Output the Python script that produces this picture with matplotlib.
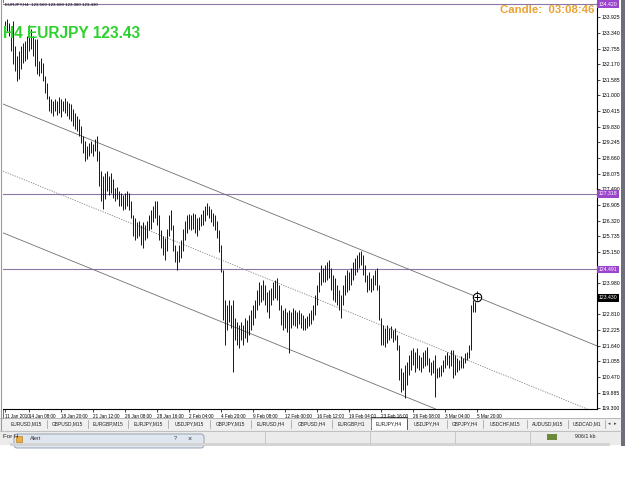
import matplotlib
matplotlib.use("Agg")
import matplotlib.pyplot as plt
from matplotlib.patches import Rectangle, FancyBboxPatch

plt.rcParams['font.family'] = ['Liberation Sans', 'DejaVu Sans']

# ----------------------------
# Data
# ----------------------------
symbol = "EURJPY"
period = "H4"
last_ohlc = [123.560, 123.680, 123.380, 123.430]
timer_text = "03:08:46"

bar_high = [
    133.79, 133.86, 133.71, 133.60, 133.79, 132.85, 132.48, 132.67, 132.85, 132.96,
    133.04, 133.23, 133.64, 133.49, 133.23, 133.11, 133.11, 132.29, 132.41, 132.22,
    131.73, 131.47, 130.99, 130.88, 130.80, 130.88, 130.80, 130.95, 130.88, 130.80,
    130.91, 130.80, 130.73, 130.69, 130.50, 130.35, 130.24, 130.13, 129.87, 129.50,
    129.31, 129.12, 129.23, 129.31, 129.20, 129.38, 129.50, 128.94, 128.19, 128.00,
    128.11, 128.19, 128.00, 128.11, 127.89, 127.52, 127.59, 127.44, 127.37, 127.26,
    127.37, 127.44, 127.37, 127.07, 126.51, 126.40, 126.25, 126.32, 126.14, 126.25,
    126.14, 126.32, 126.51, 126.70, 126.88, 127.07, 127.07, 126.51, 125.95, 125.76,
    125.65, 126.02, 126.51, 126.70, 126.14, 125.39, 125.20, 125.39, 125.58, 126.02,
    126.32, 126.51, 126.58, 126.51, 126.62, 126.55, 126.40, 126.47, 126.58, 126.70,
    126.88, 126.96, 126.88, 126.77, 126.62, 126.51, 126.32, 125.95, 125.39, 124.46,
    123.34, 123.15, 123.34, 123.15, 123.34, 122.67, 122.52, 122.40, 122.52, 122.40,
    122.67, 122.59, 122.78, 122.96, 123.15, 123.34, 123.71, 124.01, 123.90, 124.08,
    123.90, 123.64, 123.71, 123.79, 124.01, 124.08, 124.16, 123.90, 123.15, 122.96,
    123.04, 122.89, 122.96, 122.89, 123.04, 122.96, 122.89, 122.96, 122.85, 122.78,
    122.67, 122.74, 122.85, 122.96, 123.15, 123.53, 123.90, 124.38, 124.64, 124.53,
    124.64, 124.76, 124.83, 124.53, 124.27, 124.16, 123.90, 123.71, 123.53, 123.90,
    124.27, 124.46, 124.38, 124.53, 124.76, 124.91, 125.02, 125.13, 125.20, 125.02,
    124.64, 124.27, 124.38, 124.16, 124.27, 124.46, 124.53, 123.90, 122.67, 122.40,
    122.29, 122.40, 122.29, 122.37, 122.22, 122.29, 122.03, 121.66, 120.80, 120.65,
    120.91, 121.03, 121.29, 121.47, 121.55, 121.40, 121.55, 121.29, 121.21, 121.40,
    121.47, 121.58, 121.17, 121.03, 121.10, 121.29, 120.80, 120.84, 120.91, 121.10,
    121.29, 121.40, 121.29, 121.47, 121.47, 121.29, 121.17, 121.10, 121.25, 121.17,
    121.36, 121.40, 121.66, 123.15, 123.34, 123.26, 123.68,
]

bar_low = [
    133.49, 133.41, 133.23, 132.67, 132.18, 131.92, 131.55, 131.62, 132.00, 132.22,
    132.29, 132.37, 132.67, 132.74, 132.48, 132.11, 131.81, 131.73, 131.85, 131.55,
    131.10, 130.88, 130.43, 130.35, 130.24, 130.43, 130.28, 130.35, 130.20, 130.43,
    130.35, 130.24, 130.13, 130.05, 129.87, 129.76, 129.68, 129.50, 129.23, 128.86,
    128.56, 128.64, 128.75, 128.86, 128.75, 128.94, 128.56, 127.63, 127.07, 126.77,
    127.14, 127.44, 127.26, 127.37, 127.18, 127.07, 127.14, 126.88, 126.85, 126.70,
    126.77, 126.88, 126.70, 126.40, 125.76, 125.58, 125.65, 125.73, 125.39, 125.28,
    125.58, 125.65, 125.95, 126.02, 126.25, 126.40, 126.14, 125.58, 125.28, 125.02,
    124.83, 125.20, 125.76, 125.95, 125.20, 124.76, 124.46, 124.76, 124.91, 125.20,
    125.58, 125.87, 126.02, 125.95, 126.02, 125.87, 125.76, 125.95, 126.10, 126.14,
    126.32, 126.51, 126.40, 126.25, 126.10, 125.95, 125.65, 125.13, 124.38, 122.59,
    121.66, 122.22, 122.52, 122.29, 120.65, 121.85, 121.66, 121.55, 121.85, 121.66,
    121.92, 121.77, 122.03, 122.22, 122.40, 122.67, 122.96, 123.15, 123.26, 123.34,
    123.15, 122.89, 122.67, 123.15, 123.34, 123.41, 123.34, 122.96, 122.40, 122.22,
    122.29, 122.14, 121.36, 122.29, 122.40, 122.37, 122.29, 122.44, 122.29, 122.22,
    122.22, 122.29, 122.37, 122.44, 122.59, 122.78, 123.15, 123.64, 123.90, 124.01,
    124.01, 124.08, 124.16, 123.71, 123.34, 123.26, 123.15, 122.96, 122.67, 123.15,
    123.53, 123.64, 123.71, 123.90, 124.08, 124.27, 124.38, 124.53, 124.64, 124.27,
    124.01, 123.64, 123.71, 123.64, 123.71, 123.90, 123.71, 122.59, 121.66, 121.66,
    121.58, 121.73, 121.85, 121.92, 121.77, 121.85, 121.47, 120.35, 119.91, 119.98,
    119.68, 120.17, 120.54, 120.73, 120.91, 120.65, 120.80, 120.73, 120.65, 120.80,
    120.88, 120.91, 120.65, 120.54, 120.61, 119.72, 120.43, 120.47, 120.50, 120.65,
    120.80, 120.91, 120.80, 120.88, 120.43, 120.54, 120.65, 120.73, 120.80, 120.80,
    120.99, 121.10, 121.17, 121.47, 122.89, 122.89, 123.38,
]

date_ticks = [0, 12, 28, 44, 60, 76, 92, 108, 124, 140, 156, 172, 188, 204, 220, 236]
date_labels = ["11 Jan 2010", "14 Jan 08:00", "18 Jan 20:00", "21 Jan 12:00",
               "26 Jan 08:00", "28 Jan 16:00", "2 Feb 04:00", "4 Feb 20:00",
               "9 Feb 08:00", "12 Feb 00:00", "16 Feb 12:00", "19 Feb 04:00",
               "23 Feb 16:00", "26 Feb 08:00", "3 Mar 04:00", "5 Mar 20:00"]

price_ticks = [119.300, 119.885, 120.470, 121.055, 121.640, 122.225, 122.810,
               123.980, 125.150, 125.735, 126.320, 126.905, 127.490, 128.075,
               128.660, 129.245, 129.830, 130.415, 131.000, 131.585, 132.170,
               132.755, 133.340, 133.925]

level_prices = [134.420, 127.318, 124.491]

# trend channel anchors (bar index, price)
chan_bars = [1, 236]
chan_upper = [130.62, 123.46]
chan_mid = [128.11, 120.95]
chan_lower = [125.80, 118.64]

tab_names = ["EURUSD,M15", "GBPUSD,M15", "EURGBP,M15", "EURJPY,M15", "USDJPY,M15",
             "GBPJPY,M15", "EURUSD,H4", "GBPUSD,H4", "EURGBP,H1", "EURJPY,H4",
             "USDJPY,H4", "GBPJPY,H4", "USDCHF,M15", "AUDUSD,M15", "USDCAD,M1"]
tab_edges = [5, 47, 88, 128, 168, 210, 251, 291, 332, 371, 407, 447, 483, 527, 568, 605]
active_tab = "EURJPY,H4"

LEVEL_COLOR = "#8d76a6"
LABEL_BG = "#9b45cc"

# --------------------------------------------------
# Figure + window chrome (pixel coordinates)
# --------------------------------------------------
W, H = 625, 503
fig = plt.figure(figsize=(W / 100, H / 100), dpi=100)
fig.patch.set_facecolor("white")

bg = fig.add_axes([0, 0, 1, 1])
bg.set_xlim(0, W)
bg.set_ylim(H, 0)
bg.axis("off")
bg.set_zorder(0)

# left double frame + right edge
bg.plot([0.5, 0.5], [0, 430], color="#9a9a9a", lw=0.8)
bg.plot([2.5, 2.5], [0, 418], color="#555555", lw=0.6)
bg.add_patch(Rectangle((621, 0), 4, 446, color="#6b6f78", lw=0))

# tab strip
bg.add_patch(Rectangle((0, 418), 621, 12, color="#f0f0f0", lw=0))
bg.plot([0, 621], [418, 418], color="#a0a0a0", lw=0.5)
for name, x0, x1 in zip(tab_names, tab_edges[:-1], tab_edges[1:]):
    if name == active_tab:
        bg.add_patch(Rectangle((x0, 417), x1 - x0, 13, facecolor="white",
                               edgecolor="#404040", lw=0.6))
    else:
        bg.plot([x1, x1], [420, 428], color="#9a9a9a", lw=0.5)
    bg.text((x0 + x1) / 2, 424, name, fontsize=3.5, ha="center", va="center",
            color="#222222")
bg.text(609, 424, "\u25c2", fontsize=3.5, ha="center", va="center", color="#444444")
bg.text(615, 424, "\u25b8", fontsize=3.5, ha="center", va="center", color="#444444")

# status bar + alert window fragment
bg.add_patch(Rectangle((0, 430), 621, 15, color="#ebebeb", lw=0))
bg.plot([0, 621], [430.5, 430.5], color="#b0b0b0", lw=0.5)
for sx in [265, 370, 455, 530]:
    bg.plot([sx, sx], [432, 443], color="#b8b8b8", lw=0.5)
bg.text(3, 437, "For H", fontsize=4.5, ha="left", va="center", color="#222222")
bg.add_patch(FancyBboxPatch((14, 434), 190, 14, boxstyle="round,pad=0,rounding_size=3",
                            facecolor="#dfe6ef", edgecolor="#8a96a8", lw=0.6))
bg.add_patch(Rectangle((10, 443), 600, 3, color="#d4d4d4", lw=0))
bg.text(30, 439, "Alert", fontsize=4, ha="left", va="center", color="#333333")
bg.add_patch(Rectangle((16, 436), 6, 6, facecolor="#e8b040", edgecolor="#b07010", lw=0.4))
bg.text(175, 439, "?", fontsize=4, ha="center", va="center", color="#333333")
bg.text(190, 439, "\u00d7", fontsize=5, ha="center", va="center", color="#333333")
bg.add_patch(Rectangle((547, 434), 10, 6, color="#6d8a3a", lw=0))
bg.text(575, 437, "906/1 kb", fontsize=3.8, ha="left", va="center", color="#222222")

# --------------------------------------------------
# Price chart
# --------------------------------------------------
ax = fig.add_axes([3 / W, 1 - 409 / H, 594 / W, 406 / H])
ax.set_zorder(1)
ax.set_facecolor("white")
ax.set_xlim(-1, 296)
ax.set_ylim(119.27, 134.46)

idx = list(range(len(bar_high)))
ax.vlines(idx, bar_low, bar_high, color="#151515", lw=0.7, zorder=3)

for p in level_prices:
    ax.axhline(p, color=LEVEL_COLOR, lw=0.8, zorder=2)

ax.axline((chan_bars[0], chan_upper[0]), (chan_bars[1], chan_upper[1]),
          color="#707070", lw=0.6, zorder=2)
ax.axline((chan_bars[0], chan_mid[0]), (chan_bars[1], chan_mid[1]),
          color="#808080", lw=0.6, ls=(0, (1.5, 1.5)), zorder=2)
ax.axline((chan_bars[0], chan_lower[0]), (chan_bars[1], chan_lower[1]),
          color="#707070", lw=0.6, zorder=2)

# marker on the last bar
ax.plot(idx[-1], chan_upper[1], marker="o", ms=6, mfc="white", mec="black",
        mew=0.8, zorder=4)
ax.plot(idx[-1], chan_upper[1], marker="+", ms=4, color="black", mew=0.7, zorder=5)

# axes look
ax.spines["top"].set_visible(False)
ax.spines["left"].set_visible(False)
ax.spines["right"].set_color("black")
ax.spines["right"].set_linewidth(0.8)
ax.spines["bottom"].set_color("black")
ax.spines["bottom"].set_linewidth(0.8)

ax.yaxis.tick_right()
ax.set_yticks(price_ticks)
ax.set_yticklabels([f"{p:.3f}" for p in price_ticks])
ax.tick_params(axis="y", length=2, width=0.5, labelsize=3.7, pad=1.5,
               colors="black")

ax.set_xticks(date_ticks)
ax.set_xticklabels(date_labels)
ax.tick_params(axis="x", length=2, width=0.5, labelsize=3.3, pad=1.5)
for lbl in ax.get_xticklabels():
    lbl.set_horizontalalignment("left")

ytr = ax.get_yaxis_transform()
for p in level_prices:
    ax.text(1.003, p, f"{p:.3f}", transform=ytr, fontsize=3.7, color="white",
            ha="left", va="center", clip_on=False, zorder=6,
            bbox=dict(boxstyle="square,pad=0.25", fc=LABEL_BG, ec="none"))
ax.text(1.003, last_ohlc[3], f"{last_ohlc[3]:.3f}", transform=ytr, fontsize=3.7,
        color="white", ha="left", va="center", clip_on=False, zorder=6,
        bbox=dict(boxstyle="square,pad=0.25", fc="black", ec="none"))

# header + indicator texts on a transparent overlay above the chart
top = fig.add_axes([0, 0, 1, 1])
top.set_xlim(0, W)
top.set_ylim(H, 0)
top.axis("off")
top.set_zorder(2)

header = f"{symbol},{period}  " + " ".join(f"{v:.3f}" for v in last_ohlc)
top.text(5, 5, header, fontsize=3.2, ha="left", va="center", color="black")
top.text(3, 33.5, f"{period} {symbol} {last_ohlc[3]:.2f}", fontsize=11.2,
         fontweight="bold", color="#2ed12e", ha="left", va="center")
top.text(594, 9.5, f"Candle:  {timer_text}", fontsize=8.2, fontweight="bold",
         color="#eba232", ha="right", va="center")

fig.savefig("out.png", dpi=100)
